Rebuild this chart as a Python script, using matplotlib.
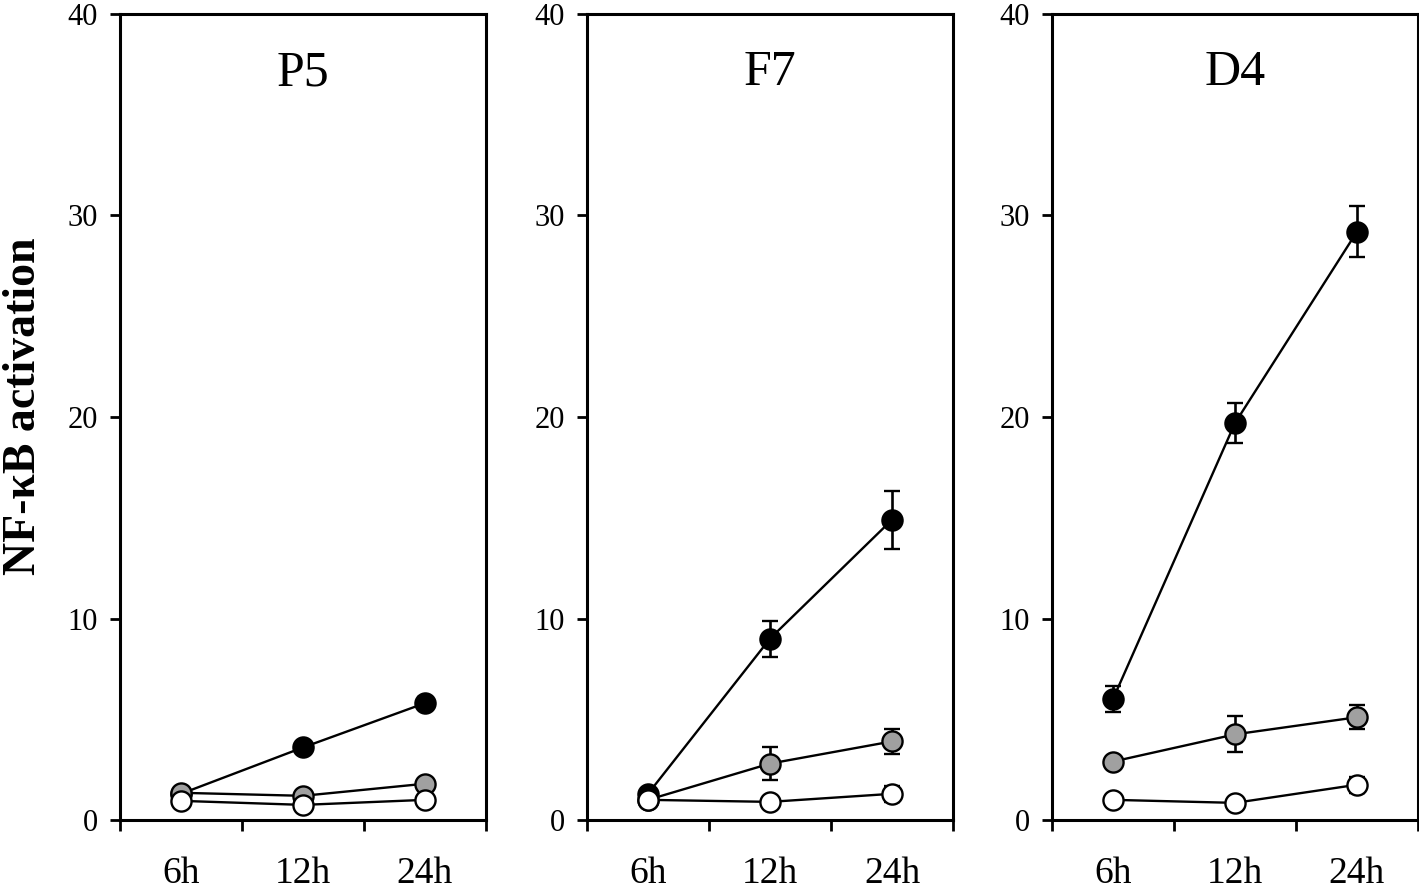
import matplotlib
matplotlib.use("Agg")
import matplotlib.pyplot as plt

plt.rcParams['font.family'] = ['Liberation Serif', 'DejaVu Serif']

times = ["6h", "12h", "24h"]
panels = ["P5", "F7", "D4"]

# values per panel: black, gray, white series
black_vals = {"P5": [1.3, 3.6, 5.8], "F7": [1.3, 9.0, 14.9], "D4": [6.0, 19.7, 29.2]}
black_err = {"P5": [0.1, 0.2, 0.3], "F7": [0.1, 0.9, 1.45], "D4": [0.65, 1.0, 1.25]}
gray_vals = {"P5": [1.35, 1.2, 1.8], "F7": [1.0, 2.8, 3.9], "D4": [2.9, 4.25, 5.1]}
gray_err = {"P5": [0.1, 0.1, 0.2], "F7": [0.1, 0.8, 0.6], "D4": [0.1, 0.9, 0.6]}
white_vals = {"P5": [0.95, 0.75, 1.0], "F7": [1.0, 0.9, 1.3], "D4": [1.0, 0.85, 1.75]}
white_err = {"P5": [0.1, 0.1, 0.1], "F7": [0.1, 0.1, 0.4], "D4": [0.1, 0.1, 0.4]}

yticks = [0, 10, 20, 30, 40]

fig = plt.figure(figsize=(14.19, 8.88), dpi=100)
lefts = [120, 587, 1052]
W, H = 1419, 888
ax_w = 366
bottom_px, top_px = 820, 14

xpos = [0.5, 1.5, 2.5]
series = [
    (black_vals, black_err, "black"),
    (gray_vals, gray_err, "#a0a0a0"),
    (white_vals, white_err, "white"),
]

for name, lp in zip(panels, lefts):
    ax = fig.add_axes([lp / W, (H - bottom_px) / H, ax_w / W, (bottom_px - top_px) / H])
    for vals, errs, col in series:
        ax.errorbar(xpos, vals[name], yerr=errs[name], color="black", lw=1.7,
                    elinewidth=1.9, capsize=6, capthick=1.9,
                    marker="o", markersize=14.5, markerfacecolor=col,
                    markeredgecolor="black", markeredgewidth=1.7, zorder=3)
    ax.set_xlim(0, 3)
    ax.set_ylim(0, 40)
    ax.set_yticks(yticks)
    ax.set_yticklabels([str(v) for v in yticks], fontsize=22)
    ax.tick_params(axis="y", direction="out", length=7, width=2, pad=9)
    ax.set_xticks([0, 1, 2, 3])
    ax.set_xticklabels([])
    ax.tick_params(axis="x", which="major", direction="out", length=8, width=2)
    ax.set_xticks(xpos, minor=True)
    ax.set_xticklabels(times, minor=True, fontsize=27)
    ax.tick_params(axis="x", which="minor", length=0, pad=26)
    for sp in ax.spines.values():
        sp.set_linewidth(2.2)
    ax.text(0.5, 0.927, name, transform=ax.transAxes, ha="center", va="center",
            fontsize=36)

fig.text(24 / W, 0.543, "NF-\u03baB activation", rotation=90, ha="center", va="center",
         fontsize=33, fontweight="bold")

fig.savefig("out.png", dpi=100)
